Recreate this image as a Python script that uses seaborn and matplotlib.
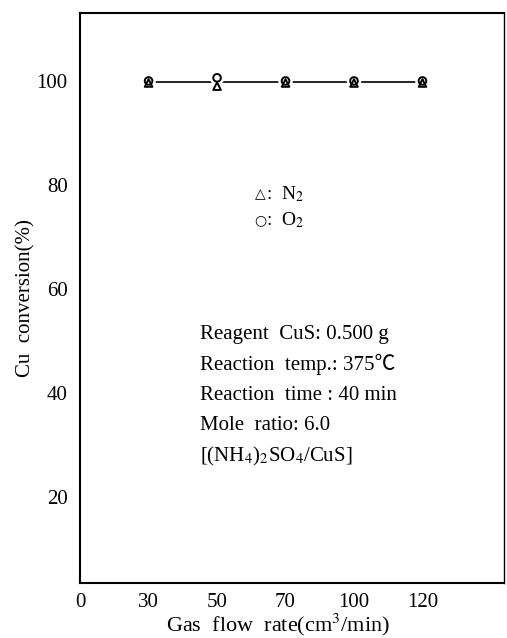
import numpy as np
import pandas as pd
import matplotlib
matplotlib.use("Agg")
import matplotlib.pyplot as plt
import seaborn as sns

# Gas flow rates (cm3/min) and Cu conversion (%) for each carrier gas
flow_labels = ["0", "30", "50", "70", "100", "120"]
flow_rates = [30, 50, 70, 100, 120]
conv_n2 = [99.6, 99.0, 99.6, 99.6, 99.6]
conv_o2 = [100.0, 100.6, 100.0, 100.0, 100.0]

sns.set_theme(style="white")
plt.rcParams["font.family"] = ["Liberation Serif", "DejaVu Sans"]
plt.rcParams["mathtext.fontset"] = "stix"
for key in ("text.color", "axes.labelcolor", "xtick.color", "ytick.color"):
    plt.rcParams[key] = "black"

# flow rates are placed on evenly spaced positions, as on the printed axis
pos = {float(v): i + 1 for i, v in enumerate(flow_rates)}
df = pd.DataFrame({
    "flow": flow_rates * 2,
    "conv": conv_n2 + conv_o2,
    "gas": ["N2"] * len(flow_rates) + ["O2"] * len(flow_rates),
})
df["x"] = df["flow"].map(lambda v: pos[float(v)])

fig = plt.figure(figsize=(5.07, 6.38), dpi=100)
ax = fig.add_axes([0.158, 0.086, 0.836, 0.894])

# connecting line through the mean of both gases
sns.lineplot(data=df, x="x", y="conv", estimator="mean", errorbar=None,
             color="black", lw=1.2, ax=ax, zorder=1)
# white pads so the line stops short of each symbol
for g, m in (("O2", "o"), ("N2", "^")):
    sns.scatterplot(data=df[df.gas == g], x="x", y="conv", marker=m, s=110,
                    color="white", edgecolor="none", ax=ax, zorder=2,
                    legend=False)
for g, m in (("N2", "^"), ("O2", "o")):
    sns.scatterplot(data=df[df.gas == g], x="x", y="conv", marker=m, s=30,
                    facecolor="none", edgecolor="black", linewidth=1.4,
                    ax=ax, zorder=3, legend=False)

ax.set_xlim(0, 6.19)
ax.set_ylim(3.5, 113.1)
ax.set_xticks(range(len(flow_labels)))
ax.set_xticklabels(flow_labels)
ax.set_yticks([20, 40, 60, 80, 100])
ax.tick_params(axis="both", direction="in", length=6, width=1.1,
               labelsize=15, colors="black")
ax.tick_params(axis="x", pad=7)
ax.tick_params(axis="y", pad=9)
for sp in ax.spines.values():
    sp.set_color("black")
    sp.set_linewidth(1.5)
ax.spines["right"].set_linewidth(1.0)

ax.set_xlabel("Gas  flow  rate(cm$^3$/min)", fontsize=16, labelpad=0)
ax.xaxis.label.set_x(0.467)
ax.set_ylabel("Cu  conversion(%)", fontsize=15, labelpad=1)

# legend of symbols
leg_x = 2.55
for sym, name, py in (("\u25b3", "N$_2$", 194), ("\u25cb", "O$_2$", 220)):
    yv = 100 - (py - 81) / 5.2
    ax.text(leg_x, yv, sym, fontsize=10, va="center", ha="left",
            family="DejaVu Sans")
    ax.text(leg_x + 0.17, yv, ":  " + name, fontsize=14, va="center",
            ha="left")

# experimental conditions
cond = [
    "Reagent  CuS: 0.500 g",
    "Reaction  temp.: 375\u2103",
    "Reaction  time : 40 min",
    "Mole  ratio: 6.0",
    "[(NH$_4$)$_2$SO$_4$/CuS]",
]
y0 = 100 - (334 - 81) / 5.2
for i, line in enumerate(cond):
    ax.text(1.75, y0 - i * 5.87, line, fontsize=15, va="center", ha="left",
            family=["Liberation Serif", "Noto Sans CJK JP", "DejaVu Sans"])

fig.savefig("out.png", dpi=100, facecolor="white")
